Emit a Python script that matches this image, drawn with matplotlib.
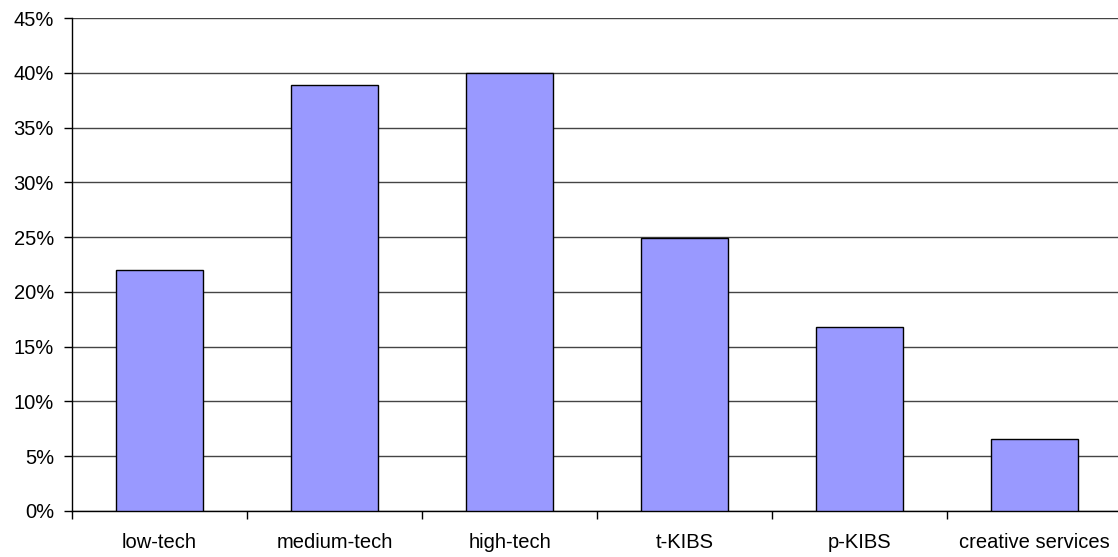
import matplotlib.pyplot as plt
from matplotlib.ticker import FixedLocator, PercentFormatter

categories = ["low-tech", "medium-tech", "high-tech", "t-KIBS", "p-KIBS", "creative services"]
shares = [22.0, 38.9, 40.0, 24.9, 16.8, 6.6]

plt.rcParams["font.family"] = ["Liberation Sans", "DejaVu Sans"]

fig = plt.figure(figsize=(11.18, 5.57), dpi=100)
ax = fig.add_axes([72 / 1118, 46 / 557, 1050 / 1118, 493 / 557])

x = range(len(categories))
ax.bar(x, shares, width=0.5, color="#9999FF", edgecolor="black", linewidth=1, zorder=3)

ax.set_ylim(0, 45)
ax.set_xlim(-0.5, len(categories) - 0.5)
ax.set_yticks(range(0, 50, 5))
ax.yaxis.set_major_formatter(PercentFormatter(decimals=0))
ax.yaxis.grid(True, color="#444444", linewidth=1, zorder=0)

ax.set_xticks(list(x))
ax.set_xticklabels(categories)
ax.xaxis.set_minor_locator(FixedLocator([i - 0.5 for i in range(len(categories))]))
ax.tick_params(axis="x", which="major", length=0, pad=16, labelsize=14.5)
ax.tick_params(axis="x", which="minor", length=6, width=1, direction="out")
ax.tick_params(axis="y", length=6, width=1, labelsize=14.5, pad=7)

for side in ["top", "right"]:
    ax.spines[side].set_visible(False)
ax.spines["left"].set_linewidth(1)
ax.spines["bottom"].set_linewidth(1)

plt.savefig("out.png", dpi=100)
